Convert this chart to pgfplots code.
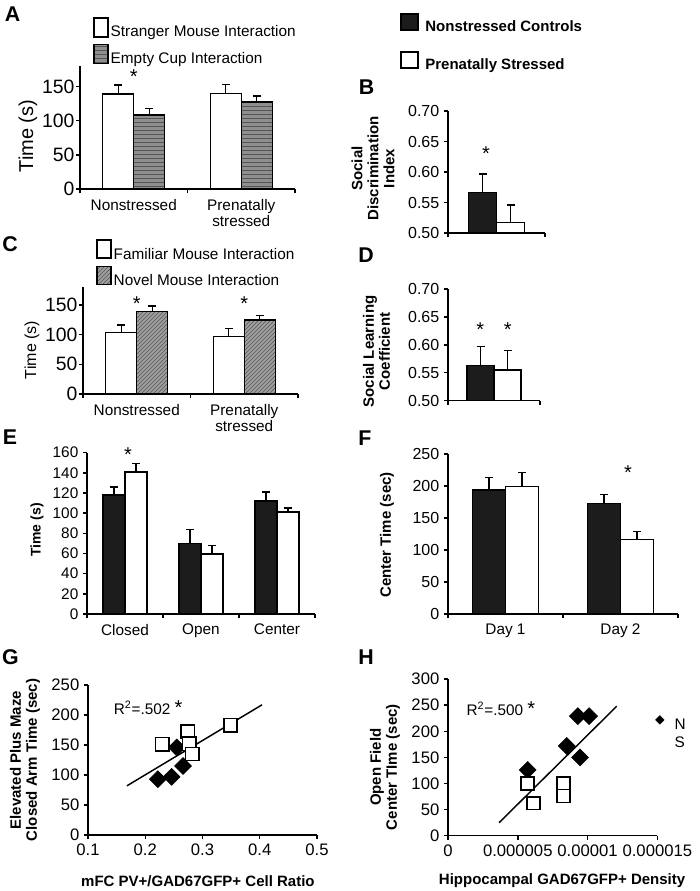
\documentclass[border=0pt]{standalone}
\usepackage{fontspec}
\setmainfont{Liberation Sans}
\usepackage{pgfplots}
\pgfplotsset{compat=1.18}
\usetikzlibrary{patterns}

\newcommand\tk{\fontsize{12}{13}\selectfont}
\newcommand\tkbig{\fontsize{14.5}{16}\selectfont}
\newcommand\tx{\fontsize{11.5}{12}\selectfont}
\newcommand\st{\fontsize{15}{15}\selectfont}
\newcommand\lb{\fontsize{11.25}{12}\selectfont\bfseries}
\newcommand\letter{\fontsize{16}{18}\selectfont\bfseries}

\definecolor{barblack}{HTML}{1C1C1C}
\definecolor{barGrey}{HTML}{8E8E8E}
\definecolor{hatch}{HTML}{555555}

\pgfplotsset{
  panel/.style={
    scale only axis, axis lines*=left,
    axis line style={line width=1.1pt, black},
    tick style={line width=1.1pt, black},
    tick align=outside, major tick length=3pt,
    tick label style={font=\tk},
    scaled ticks=false,
    /pgf/number format/assume math mode=true,
    xlabel style={font=\lb},
    ylabel style={font=\lb, align=center},
  },
  bars/.style={
    panel, ybar=0pt, clip=false, xticklabels={},
    extra x tick style={major tick length=0pt,
      tick label style={font=\tx, align=center, yshift=-4pt}},
  },
  eb/.style={
    /pgfplots/error bars/y dir=plus,
    /pgfplots/error bars/y explicit,
    /pgfplots/error bars/error bar style={line width=1.1pt, black},
    /pgfplots/error bars/error mark options={rotate=90, line width=1.1pt, black, mark size=3pt},
  },
  blk/.style={fill=barblack, draw=black, line width=1.1pt, eb},
  wht/.style={fill=white, draw=black, line width=1.1pt, eb},
  gryA/.style={fill=barGrey, draw=black, line width=1.1pt,
    postaction={pattern=horizontal lines, pattern color=hatch, draw=black}, eb},
  gryC/.style={fill=barGrey!85, draw=black, line width=1.1pt,
    postaction={pattern=north east lines, pattern color=hatch, draw=black}, eb},
}

\begin{document}
\begin{tikzpicture}
\useasboundingbox (0,0) rectangle (524.25pt,-668.25pt);

% panel letters
\node[font=\letter, inner sep=0pt] at (9.4pt,-10.9pt) {A};
\node[font=\letter, inner sep=0pt] at (274.9pt,-65.6pt) {B};
\node[font=\letter, inner sep=0pt] at (7.5pt,-183pt) {C};
\node[font=\letter, inner sep=0pt] at (274.5pt,-191.6pt) {D};
\node[font=\letter, inner sep=0pt] at (7.5pt,-328.1pt) {E};
\node[font=\letter, inner sep=0pt] at (273.75pt,-328.9pt) {F};
\node[font=\letter, inner sep=0pt] at (7.9pt,-493.1pt) {G};
\node[font=\letter, inner sep=0pt] at (274.5pt,-492.75pt) {H};

% A
\begin{axis}[bars, at={(60pt,-141.75pt)}, anchor=south west,
  width=161.25pt, height=92.25pt,
  xmin=-0.5, xmax=1.5, ymin=0, ymax=180, ytick={0,50,100,150},
  bar width=23.25pt, xtick={-0.5,0.5,1.5},
  extra x ticks={0,1}, extra x tick labels={Nonstressed,{Prenatally\\stressed}},
  yticklabel style={font=\tkbig, inner sep=1pt},
  ylabel={Time (s)},
  ylabel style={font=\fontsize{15}{16}\selectfont, at={(axis description cs:-0.242,0.43)}, anchor=center},
  legend image code/.code={\draw[#1] (0pt,-3.5pt) rectangle (10.5pt,10.75pt);},
  legend style={at={(axis description cs:0.0605,1.40)}, anchor=north west,
    draw=none, fill=none, inner sep=0pt, row sep=2.5pt, font=\tx, nodes={inner sep=1.5pt}},
  legend cell align=left]
\addplot[wht] coordinates {(0,139) +- (0,13) (1,140) +- (0,13)};
\addlegendentry{Stranger Mouse Interaction}
\addplot[gryA] coordinates {(0,108) +- (0,10) (1,127) +- (0,9)};
\addlegendentry{Empty Cup Interaction}
\node[font=\st] at (axis cs:0,165) {*};
\end{axis}

% B
\begin{axis}[bars, clip=true, at={(336pt,-174.75pt)}, anchor=south west,
  width=72.75pt, height=91.5pt,
  xmin=-1, xmax=1, ymin=0.5, ymax=0.7,
  ytick={0.5,0.55,0.6,0.65,0.7}, yticklabels={0.50,0.55,0.60,0.65,0.70},
  bar width=21pt, xtick={-1,1},
  ylabel={Social\\Discrimination\\Index},
  ylabel style={at={(axis description cs:-0.773,0.529)}, anchor=center},
  legend image code/.code={\draw[#1] (0pt,-2pt) rectangle (12.75pt,10pt);},
  legend style={at={(axis description cs:-0.495,1.803)}, anchor=north west,
    draw=none, fill=none, inner sep=0pt, row sep=11pt, font=\lb,
    nodes={inner sep=2pt}, column sep=3pt},
  legend cell align=left]
\addplot[blk] coordinates {(0,0.566) +- (0,0.031)};
\addlegendentry{Nonstressed Controls}
\addplot[wht] coordinates {(0,0.517) +- (0,0.029)};
\addlegendentry{Prenatally Stressed}
\node[font=\st] at (axis cs:-0.216,0.630) {*};
\end{axis}

% C
\begin{axis}[bars, at={(62.25pt,-295.5pt)}, anchor=south west,
  width=161.25pt, height=80.1pt,
  xmin=-0.5, xmax=1.5, ymin=0, ymax=180, ytick={0,50,100,150},
  bar width=23.25pt, xtick={-0.5,0.5,1.5},
  extra x ticks={0,1}, extra x tick labels={Nonstressed,{Prenatally\\stressed}},
  yticklabel style={font=\tkbig, inner sep=1pt},
  ylabel={Time (s)},
  ylabel style={font=\tk, at={(axis description cs:-0.237,0.412)}, anchor=center},
  legend image code/.code={\draw[#1] (0pt,-2.5pt) rectangle (10.5pt,11pt);},
  legend style={at={(axis description cs:0.0605,1.45)}, anchor=north west,
    draw=none, fill=none, inner sep=0pt, row sep=2pt, font=\tx, nodes={inner sep=1.5pt}},
  legend cell align=left]
\addplot[wht] coordinates {(0,104) +- (0,12) (1,97) +- (0,13)};
\addlegendentry{Familiar Mouse Interaction}
\addplot[gryC] coordinates {(0,139) +- (0,9) (1,125) +- (0,7)};
\addlegendentry{Novel Mouse Interaction}
\node[font=\st] at (axis cs:0,153) {*};
\node[font=\st] at (axis cs:1,153) {*};
\end{axis}

% D
\begin{axis}[bars, clip=true, at={(336pt,-300.5pt)}, anchor=south west,
  width=69pt, height=83.8pt,
  xmin=-1, xmax=1, ymin=0.5, ymax=0.7,
  ytick={0.5,0.55,0.6,0.65,0.7}, yticklabels={0.50,0.55,0.60,0.65,0.70},
  bar width=20.25pt, xtick={-1,1},
  ylabel={Social Learning\\Coefficient},
  ylabel style={at={(axis description cs:-0.777,0.44)}, anchor=center}]
\addplot[blk] coordinates {(0,0.563) +- (0,0.034)};
\addplot[wht] coordinates {(0,0.555) +- (0,0.035)};
\node[font=\st] at (axis cs:-0.30,0.627) {*};
\node[font=\st] at (axis cs:0.30,0.627) {*};
\end{axis}

% E
\begin{axis}[bars, at={(65.25pt,-460.5pt)}, anchor=south west,
  width=171pt, height=121pt,
  xmin=-0.5, xmax=2.5, ymin=0, ymax=160, ytick={0,20,...,160},
  bar width=16.5pt, xtick={-0.5,0.5,1.5,2.5},
  extra x ticks={0,1,2}, extra x tick labels={Closed,Open,Center},
  yticklabel style={font=\fontsize{11.5}{12}\selectfont},
  ylabel={Time (s)},
  ylabel style={font=\fontsize{10.5}{12}\selectfont\bfseries, at={(axis description cs:-0.219,0.521)}, anchor=center}]
\addplot[blk] coordinates {(0,118) +- (0,8) (1,70) +- (0,14) (2,112) +- (0,9)};
\addplot[wht] coordinates {(0,141) +- (0,8) (1,59.5) +- (0,8.5) (2,101) +- (0,4)};
\node[font=\st] at (axis cs:0.04,158) {*};
\end{axis}

% F
\begin{axis}[bars, at={(336pt,-460.5pt)}, anchor=south west,
  width=172.5pt, height=120pt,
  xmin=-0.5, xmax=1.5, ymin=0, ymax=250, ytick={0,50,...,250},
  bar width=24.75pt, xtick={-0.5,0.5,1.5},
  extra x ticks={0,1}, extra x tick labels={Day 1,Day 2},
  ylabel={Center Time (sec)},
  ylabel style={at={(axis description cs:-0.265,0.494)}, anchor=center}]
\addplot[blk] coordinates {(0,194) +- (0,19) (1,173) +- (0,14)};
\addplot[wht] coordinates {(0,199) +- (0,22) (1,116) +- (0,13)};
\node[font=\st] at (axis cs:1.065,221) {*};
\end{axis}

% G
\begin{axis}[panel, clip=false, at={(66pt,-626.25pt)}, anchor=south west,
  width=171.75pt, height=112.5pt,
  xmin=0.1, xmax=0.5, ymin=0, ymax=250,
  xtick={0.1,0.2,0.3,0.4,0.5}, xticklabels={0.1,0.2,0.3,0.4,0.5},
  ytick={0,50,...,250},
  tick label style={font=\fontsize{12.5}{13}\selectfont},
  ylabel={Elevated Plus Maze\\Closed Arm Time (sec)},
  ylabel style={at={(axis description cs:-0.275,0.5)}, anchor=center},
  xlabel={mFC PV+/GAD67GFP+ Cell Ratio},
  xlabel style={at={(axis description cs:0.48,-0.307)}, anchor=center}]
\addplot[only marks, mark=square*, mark size=4.5pt, black, mark options={rotate=45, fill=black, draw=black}]
  coordinates {(0.222,93) (0.246,97) (0.266,115) (0.255,146)};
\addplot[only marks, mark=square*, mark size=5pt, black, mark options={fill=white, draw=black, line width=1.1pt}]
  coordinates {(0.230,151) (0.274,172) (0.277,152) (0.282,135) (0.349,183)};
\addplot[black, line width=1.1pt, no marks] coordinates {(0.168,82) (0.404,217)};
\node[font=\tx, anchor=west] at (axis cs:0.137,212) {R\textsuperscript{2}=.502 {\st*}};
\end{axis}

% H
\begin{axis}[panel, clip=false, at={(336pt,-626.8pt)}, anchor=south west,
  width=157pt, height=117.5pt,
  xmin=0, xmax=0.000015, ymin=0, ymax=300,
  xtick={0,0.000005,0.00001,0.000015}, xticklabels={0,0.000005,0.00001,0.000015},
  ytick={0,50,...,300},
  tick label style={font=\fontsize{12.5}{13}\selectfont},
  ylabel={Open Field\\Center TIme (sec)},
  ylabel style={at={(axis description cs:-0.301,0.438)}, anchor=center},
  xlabel={Hippocampal GAD67GFP+ Density},
  xlabel style={at={(axis description cs:0.545,-0.289)}, anchor=center},
  legend style={at={(axis description cs:0.989,0.77)}, anchor=north west,
    draw=none, fill=none, inner sep=0pt, row sep=0pt, font=\tx, nodes={inner sep=2pt}},
  legend cell align=left]
\addplot[only marks, mark=square*, mark size=4.5pt, black, mark options={rotate=45, fill=black, draw=black}, forget plot]
  coordinates {(0.00000571,126) (0.00000851,172) (0.00000946,150) (0.0000093,229) (0.00001011,229)};
\addplot[only marks, mark=square*, mark size=4.8pt, black, mark options={fill=white, draw=black, line width=1.1pt}, forget plot]
  coordinates {(0.00000569,100) (0.00000612,62) (0.00000827,100) (0.00000827,76)};
\addplot[black, line width=1.1pt, no marks, forget plot] coordinates {(0.00000366,25) (0.00001209,248)};
\addlegendimage{legend image code/.code={\path (0pt,0pt) (12pt,0pt); \fill[black] (0pt,4pt) -- (3.2pt,7.2pt) -- (6.4pt,4pt) -- (3.2pt,0.8pt) -- cycle;}}
\addlegendentry{N}
\addlegendimage{empty legend}
\addlegendentry{S}
\node[font=\tx, anchor=west] at (axis cs:0.0000010,243) {R\textsuperscript{2}=.500 {\st*}};
\end{axis}
\end{tikzpicture}
\end{document}
